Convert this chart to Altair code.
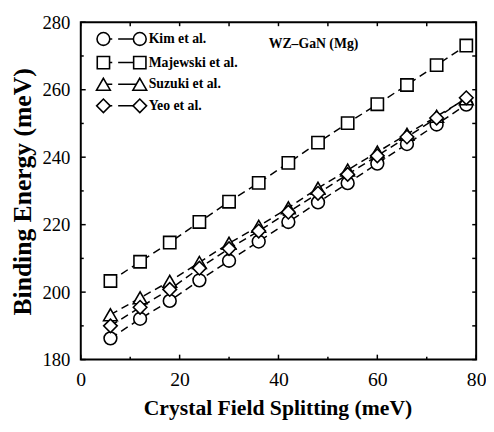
import altair as alt
import pandas as pd

# ---- data ----
crystal_field = [6, 12, 18, 24, 30, 36, 42, 48, 54, 60, 66, 72, 78]
kim = [186.3, 192.1, 197.4, 203.5, 209.3, 215.0, 220.8, 226.6, 232.3, 238.1, 243.9, 249.7, 255.6]
majewski = [203.3, 209.0, 214.7, 220.8, 226.8, 232.4, 238.3, 244.3, 250.1, 255.7, 261.4, 267.3, 273.1]
suzuki = [193.3, 198.3, 203.2, 208.8, 214.5, 219.5, 225.0, 230.8, 236.2, 241.5, 246.8, 252.1, 257.3]
yeo = [190.0, 195.5, 200.8, 207.1, 212.9, 218.1, 223.7, 229.3, 234.9, 240.4, 246.0, 251.6, 257.6]

series_names = ["Kim et al.", "Majewski et al.", "Suzuki et al.", "Yeo et al."]
series_values = [kim, majewski, suzuki, yeo]
shapes = ["circle", "square", "triangle-up", "diamond"]
sizes = [169, 156, 196, 190]

x_major = [0, 20, 40, 60, 80]
x_minor = [10, 30, 50, 70]
x_all = [0, 10, 20, 30, 40, 50, 60, 70, 80]
y_major = [180, 200, 220, 240, 260, 280]
y_minor = [190, 210, 230, 250, 270]
y_all = [180, 190, 200, 210, 220, 230, 240, 250, 260, 270, 280]

annotation = "WZ\u2013GaN (Mg)"
x_title = "Crystal Field Splitting (meV)"
y_title = "Binding Energy (meV)"

# ---- layout / style ----
W, H = 402, 343
FONT = "Liberation Serif"
xs = alt.Scale(domain=[0, 80], nice=False, zero=False)
ys = alt.Scale(domain=[180, 280], nice=False, zero=False)

x_axis = alt.Axis(values=x_major, title=x_title, domain=False, ticks=False, grid=False,
                  labelFont=FONT, labelFontSize=20, labelColor="black", labelPadding=10,
                  labelFlush=False, labelOverlap=False, format="d",
                  titleFont=FONT, titleFontSize=22, titleFontWeight="bold", titleColor="black",
                  titleX=200, titleY=56, titleBaseline="alphabetic", titleAlign="center")
y_axis = alt.Axis(values=y_major, title=y_title, domain=False, ticks=False, grid=False,
                  labelFont=FONT, labelFontSize=19, labelColor="black", labelPadding=11,
                  labelFlush=False, labelOverlap=False, format="d",
                  titleFont=FONT, titleFontSize=26, titleFontWeight="bold", titleColor="black",
                  titleX=-51, titleY=172, titleAngle=270, titleBaseline="alphabetic",
                  titleAlign="center")


def X(field):
    return alt.X(field, scale=xs, axis=x_axis)


def Y(field):
    return alt.Y(field, scale=ys, axis=y_axis)


layers = []
for name, vals, shape, size in zip(series_names, series_values, shapes, sizes):
    df = pd.DataFrame({"x": crystal_field, "y": vals, "series": name})
    base = alt.Chart(df)
    line = base.mark_line(color="black", strokeWidth=1.5, strokeDash=[8, 5]).encode(
        x=X("x:Q"), y=Y("y:Q"))
    pts = base.mark_point(shape=shape, size=size, filled=True, fill="white", stroke="black",
                          strokeWidth=1.6, opacity=1, fillOpacity=1, strokeOpacity=1).encode(
        x=X("x:Q"), y=Y("y:Q"))
    layers += [line, pts]


def vticks(vals, y0, y1):
    return alt.Chart(pd.DataFrame({"x": vals})).mark_rule(color="black", strokeWidth=1.5).encode(
        x=X("x:Q"), y=alt.value(y0), y2=alt.value(y1))


def hticks(vals, x0, x1):
    return alt.Chart(pd.DataFrame({"y": vals})).mark_rule(color="black", strokeWidth=1.5).encode(
        y=Y("y:Q"), x=alt.value(x0), x2=alt.value(x1))


layers += [
    vticks(x_major, H, H - 5), vticks(x_minor, H, H - 3), vticks(x_all, 0, 4),
    hticks(y_major, 0, 5), hticks(y_minor, 0, 3), hticks(y_all, W, W - 4),
]

# ---- custom legend ----
row_y = [17, 41, 63, 85]
for name, shape, size, ly in zip(series_names, shapes, sizes, row_y):
    lc = alt.Chart(pd.DataFrame({"series": [name]}))
    layers.append(lc.mark_rule(color="black", strokeWidth=1.5, strokeDash=[9, 6, 30, 2]).encode(
        x=alt.value(23), x2=alt.value(60), y=alt.value(ly)))
    for lx in (23, 60):
        layers.append(lc.mark_point(shape=shape, size=size, filled=True, fill="white", stroke="black",
                                    strokeWidth=1.6, opacity=1, fillOpacity=1).encode(
            x=alt.value(lx), y=alt.value(ly)))
    layers.append(lc.mark_text(align="left", baseline="middle", font=FONT, fontSize=14,
                               fontWeight="bold", color="black").encode(
        x=alt.value(69), y=alt.value(ly), text="series:N"))

layers.append(alt.Chart(pd.DataFrame({"t": [annotation]})).mark_text(
    align="left", baseline="alphabetic", font=FONT, fontSize=14, fontWeight="bold", color="black"
).encode(x=alt.value(191), y=alt.value(26), text="t:N"))

chart = alt.layer(*layers).properties(
    width=W, height=H,
    autosize=alt.AutoSizeParams(type="none"),
    padding={"left": 74, "top": 11, "right": 10, "bottom": 62},
    background="white",
).configure_view(stroke="black", strokeWidth=2)

chart.save("out.html", embed_options={"renderer": "svg", "actions": False})
